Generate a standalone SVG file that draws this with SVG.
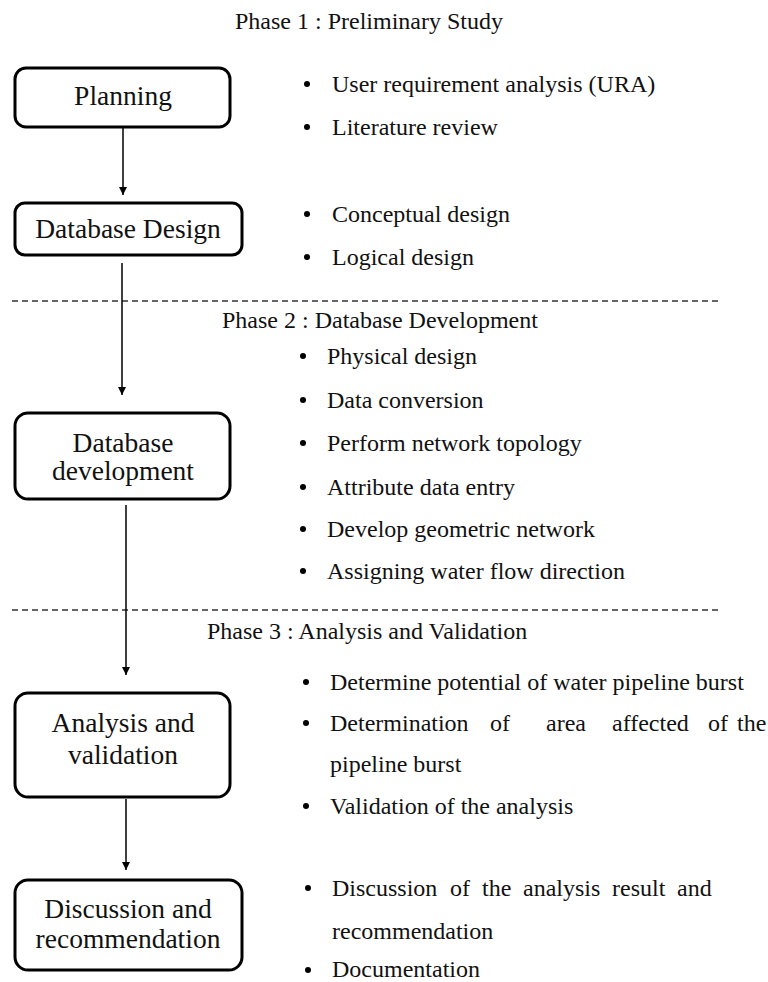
<svg xmlns="http://www.w3.org/2000/svg" width="768" height="982" viewBox="0 0 768 982">
<style>
text{font-family:"Liberation Serif","Times New Roman",serif;fill:#111}
.t{font-size:24px}
.lbl{font-size:27.5px;text-anchor:middle}
.box{fill:#fff;stroke:#000;stroke-width:3}
.con{stroke:#000;stroke-width:1.5;fill:none}
.dash{stroke:#666;stroke-width:2;stroke-dasharray:6 4;fill:none}
.b{fill:#000}
</style>
<defs>
<marker id="ah" viewBox="0 0 10 10" refX="10" refY="5" markerWidth="10" markerHeight="8" markerUnits="userSpaceOnUse" orient="auto">
<path d="M0,0 L10,5 L0,10 z" fill="#000"/>
</marker>
</defs>
<rect width="768" height="982" fill="#fff"/>

<g id="phases">
<text class="t" x="235" y="29">Phase 1 : Preliminary Study</text>
<line class="dash" x1="12" y1="301" x2="720" y2="301"/>
<text class="t" x="222" y="328">Phase 2 : Database Development</text>
<line class="dash" x1="12" y1="610" x2="720" y2="610"/>
<text class="t" x="207" y="639">Phase 3 : Analysis and Validation</text>
</g>

<g id="connectors">
<line class="con" x1="123" y1="128" x2="123" y2="195" marker-end="url(#ah)"/>
<line class="con" x1="122" y1="263" x2="122" y2="395" marker-end="url(#ah)"/>
<line class="con" x1="126" y1="505" x2="126" y2="675" marker-end="url(#ah)"/>
<line class="con" x1="126" y1="799" x2="126" y2="870" marker-end="url(#ah)"/>
</g>

<g id="planning">
<rect class="box" x="15" y="68" width="215" height="59" rx="11"/>
<text class="lbl" x="123" y="105">Planning</text>
</g>
<g id="database-design">
<rect class="box" x="15" y="203" width="227" height="52" rx="10"/>
<text class="lbl" x="128" y="238">Database Design</text>
</g>
<g id="database-development">
<rect class="box" x="15" y="413" width="215" height="86" rx="13"/>
<text class="lbl" x="123" y="452">Database</text>
<text class="lbl" x="123" y="480">development</text>
</g>
<g id="analysis-validation">
<rect class="box" x="15" y="693" width="215" height="104" rx="13"/>
<text class="lbl" x="123" y="732">Analysis and</text>
<text class="lbl" x="123" y="764">validation</text>
</g>
<g id="discussion-recommendation">
<rect class="box" x="15" y="880" width="227" height="90" rx="13"/>
<text class="lbl" x="128" y="918">Discussion and</text>
<text class="lbl" x="128" y="948">recommendation</text>
</g>

<g id="phase1-list">
<circle class="b" cx="307" cy="84" r="3"/><text class="t" x="332" y="92">User requirement analysis (URA)</text>
<circle class="b" cx="307" cy="127" r="3"/><text class="t" x="332" y="135">Literature  review</text>
<circle class="b" cx="307" cy="214" r="3"/><text class="t" x="332" y="222">Conceptual design</text>
<circle class="b" cx="307" cy="257" r="3"/><text class="t" x="332" y="265">Logical design</text>
</g>

<g id="phase2-list">
<circle class="b" cx="303" cy="356" r="3"/><text class="t" x="327" y="364">Physical design</text>
<circle class="b" cx="303" cy="400" r="3"/><text class="t" x="327" y="408">Data conversion</text>
<circle class="b" cx="303" cy="443" r="3"/><text class="t" x="327" y="451">Perform network topology</text>
<circle class="b" cx="303" cy="487" r="3"/><text class="t" x="327" y="495">Attribute data entry</text>
<circle class="b" cx="303" cy="529" r="3"/><text class="t" x="327" y="537">Develop geometric network</text>
<circle class="b" cx="303" cy="571" r="3"/><text class="t" x="327" y="579">Assigning water flow direction</text>
</g>

<g id="phase3-list">
<circle class="b" cx="306" cy="682" r="3"/><text class="t" x="330" y="690">Determine potential of water pipeline burst</text>
<circle class="b" cx="306" cy="723" r="3"/><text class="t" y="731"><tspan x="330">Determination</tspan><tspan x="490">of</tspan><tspan x="546">area</tspan><tspan x="612">affected</tspan><tspan x="708">of</tspan><tspan x="737">the</tspan></text>
<text class="t" x="330" y="772">pipeline burst</text>
<circle class="b" cx="306" cy="806" r="3"/><text class="t" x="330" y="814">Validation of the analysis</text>
</g>

<g id="discussion-list">
<circle class="b" cx="308" cy="888" r="3"/><text class="t" y="896"><tspan x="332">Discussion</tspan><tspan x="450">of</tspan><tspan x="482">the</tspan><tspan x="523">analysis</tspan><tspan x="612">result</tspan><tspan x="677">and</tspan></text>
<text class="t" x="332" y="939">recommendation</text>
<circle class="b" cx="308" cy="970" r="3"/><text class="t" x="332" y="977">Documentation</text>
</g>
</svg>
